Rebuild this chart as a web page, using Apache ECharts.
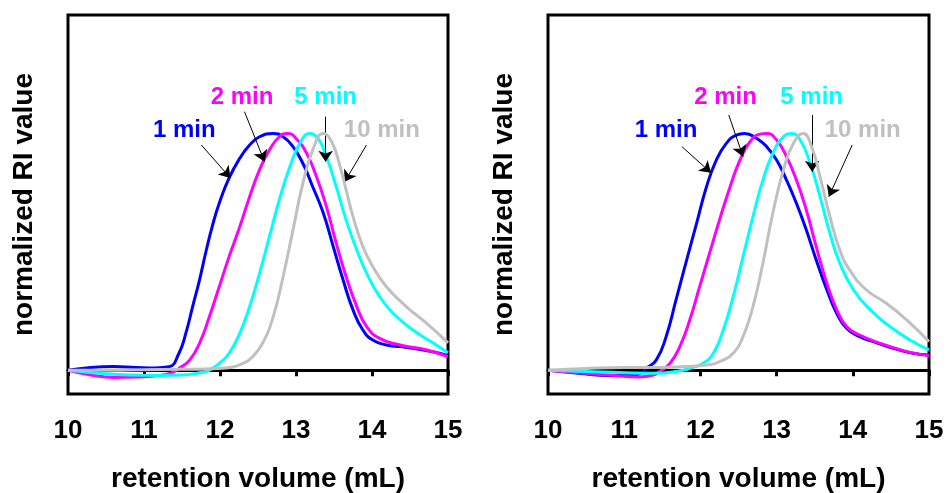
<!DOCTYPE html>
<html>
<head>
<meta charset="utf-8">
<script src="https://cdn.jsdelivr.net/npm/echarts@6/dist/echarts.min.js"></script>
<style>
html,body{margin:0;padding:0;background:#fff;}
#chart{width:948px;height:493px;}
</style>
</head>
<body>
<div id="chart"></div>
<script>
// ---- data (retention volume mL, normalized RI) ----
const xTicks = [10, 11, 12, 13, 14, 15];
const seriesNames = ['1 min', '2 min', '5 min', '10 min'];
const seriesColors = ['#0000FF', '#FF00FF', '#00FFFF', '#C0C0C0'];

// left panel
const L_1min = [[10.0,0.0],[10.3,0.012],[10.6,0.016],[10.9,0.012],[11.15,0.01],[11.33,0.015],[11.46,0.072],[11.55,0.156],[11.64,0.269],[11.73,0.381],[11.82,0.508],[11.9,0.61],[11.99,0.705],[12.12,0.812],[12.26,0.895],[12.39,0.951],[12.52,0.986],[12.7,1.0],[12.83,0.986],[12.96,0.944],[13.09,0.874],[13.22,0.775],[13.36,0.663],[13.49,0.522],[13.62,0.381],[13.75,0.255],[13.88,0.17],[14.01,0.128],[14.19,0.107],[14.37,0.1],[14.54,0.093],[14.8,0.078],[15.0,0.062]];
const L_2min = [[10.0,0.0],[10.3,-0.02],[10.6,-0.03],[10.9,-0.028],[11.2,-0.022],[11.35,-0.012],[11.46,0.008],[11.6,0.043],[11.73,0.114],[11.86,0.226],[11.99,0.353],[12.12,0.48],[12.26,0.606],[12.39,0.733],[12.52,0.846],[12.65,0.93],[12.78,0.986],[12.89,1.0],[13.0,0.979],[13.14,0.916],[13.27,0.817],[13.4,0.691],[13.53,0.536],[13.66,0.395],[13.8,0.269],[13.93,0.184],[14.1,0.135],[14.37,0.107],[14.72,0.086],[15.0,0.058]];
const L_5min = [[10.0,0.0],[10.4,-0.012],[10.8,-0.02],[11.2,-0.022],[11.5,-0.02],[11.73,-0.01],[11.86,0.001],[11.99,0.029],[12.12,0.072],[12.26,0.156],[12.39,0.269],[12.52,0.409],[12.65,0.564],[12.78,0.719],[12.92,0.86],[13.05,0.958],[13.18,1.0],[13.29,0.979],[13.4,0.902],[13.53,0.775],[13.66,0.634],[13.8,0.508],[13.93,0.409],[14.1,0.311],[14.28,0.24],[14.54,0.17],[14.81,0.114],[15.0,0.074]];
const L_10min = [[10.0,0.0],[10.5,0.0],[11.0,0.002],[11.5,0.004],[11.8,0.006],[12.08,0.01],[12.3,0.029],[12.43,0.058],[12.56,0.114],[12.7,0.226],[12.83,0.395],[12.96,0.592],[13.09,0.789],[13.22,0.93],[13.36,1.0],[13.47,0.965],[13.58,0.86],[13.66,0.761],[13.75,0.649],[13.88,0.522],[14.01,0.438],[14.19,0.353],[14.45,0.269],[14.72,0.198],[15.0,0.116]];

// right panel
const R_1min = [[10.0,0.0],[10.4,-0.012],[10.8,-0.022],[11.1,-0.022],[11.22,-0.012],[11.29,0.008],[11.42,0.043],[11.55,0.142],[11.68,0.297],[11.82,0.466],[11.95,0.62],[12.08,0.775],[12.21,0.888],[12.34,0.958],[12.47,0.993],[12.58,1.0],[12.74,0.979],[12.87,0.944],[13.0,0.888],[13.13,0.803],[13.26,0.705],[13.39,0.592],[13.52,0.466],[13.66,0.339],[13.79,0.24],[13.92,0.177],[14.09,0.142],[14.27,0.121],[14.53,0.093],[14.79,0.072],[15.0,0.065]];
const R_2min = [[10.0,0.0],[10.4,-0.01],[10.8,-0.02],[11.2,-0.028],[11.38,-0.02],[11.46,-0.006],[11.6,0.029],[11.73,0.1],[11.86,0.212],[11.99,0.353],[12.12,0.494],[12.25,0.634],[12.39,0.775],[12.52,0.888],[12.65,0.965],[12.78,0.997],[12.87,1.0],[13.0,0.972],[13.13,0.902],[13.26,0.803],[13.39,0.677],[13.52,0.522],[13.66,0.367],[13.79,0.255],[13.92,0.184],[14.09,0.149],[14.36,0.114],[14.71,0.079],[15.0,0.062]];
const R_5min = [[10.0,0.0],[10.5,-0.005],[11.0,-0.01],[11.4,-0.012],[11.7,-0.004],[11.86,0.008],[12.03,0.029],[12.17,0.072],[12.3,0.17],[12.43,0.311],[12.56,0.48],[12.69,0.649],[12.82,0.803],[12.95,0.916],[13.09,0.986],[13.2,1.0],[13.31,0.972],[13.44,0.874],[13.57,0.733],[13.7,0.578],[13.83,0.452],[14.01,0.339],[14.23,0.255],[14.49,0.184],[14.75,0.128],[15.0,0.086]];
const R_10min = [[10.0,0.0],[10.5,0.008],[11.0,0.012],[11.5,0.012],[11.8,0.016],[12.08,0.022],[12.3,0.043],[12.43,0.072],[12.56,0.142],[12.69,0.269],[12.82,0.452],[12.95,0.663],[13.09,0.846],[13.22,0.958],[13.35,1.0],[13.46,0.944],[13.57,0.817],[13.7,0.649],[13.83,0.508],[13.96,0.423],[14.18,0.339],[14.44,0.283],[14.71,0.212],[15.0,0.121]];

// annotation anchors (data coordinates): label centre, arrow start, arrow tip
const L_labelPos = [[11.53,1.014],[12.29,1.154],[13.39,1.154],[14.13,1.014]];
const L_arrowFrom = [[11.755,0.951],[12.322,1.092],[13.39,1.071],[13.927,0.951]];
const L_arrowTo = [[12.137,0.812],[12.586,0.881],[13.39,0.881],[13.641,0.796]];
const R_labelPos = [[11.55,1.014],[12.33,1.154],[13.46,1.154],[14.13,1.014]];
const R_arrowFrom = [[11.758,0.944],[12.372,1.078],[13.467,1.078],[13.992,0.951]];
const R_arrowTo = [[12.139,0.834],[12.56,0.902],[13.467,0.838],[13.686,0.733]];

const FONT = '"Liberation Sans", Arial, sans-serif';

function makeSeries(data, idx, axisIdx, labelPos, arrowFrom, arrowTo) {
  return {
    type: 'line',
    name: seriesNames[idx],
    xAxisIndex: axisIdx,
    yAxisIndex: axisIdx,
    data: data,
    smooth: 0.5,
    symbol: 'none',
    lineStyle: { color: seriesColors[idx], width: 3 },
    itemStyle: { color: seriesColors[idx] },
    z: 2 + idx,
    silent: true,
    animation: false,
    markPoint: {
      silent: true,
      symbol: 'rect',
      symbolSize: 1,
      itemStyle: { color: 'rgba(0,0,0,0)' },
      label: {
        show: true, position: 'inside', formatter: seriesNames[idx],
        color: seriesColors[idx], fontSize: 24, fontWeight: 'bold', fontFamily: FONT
      },
      data: [{ coord: labelPos[idx] }]
    },
    markLine: {
      silent: true,
      animation: false,
      symbol: ['none', 'arrow'],
      symbolSize: 11,
      label: { show: false },
      lineStyle: { color: '#000', width: 1, type: 'solid' },
      emphasis: { disabled: true },
      data: [[{ coord: arrowFrom[idx] }, { coord: arrowTo[idx] }]]
    }
  };
}

function makeX(gridIndex) {
  return {
    type: 'value', gridIndex: gridIndex, min: 10, max: 15, interval: 1,
    name: 'retention volume (mL)', nameLocation: 'middle', nameGap: 71,
    nameTextStyle: { fontSize: 28, fontWeight: 'bold', color: '#000', fontFamily: FONT },
    axisLine: { show: true, lineStyle: { color: '#000', width: 3 } },
    axisTick: { show: true, inside: false, length: 6, lineStyle: { color: '#000', width: 3 } },
    axisLabel: {
      show: true, margin: 24, fontSize: 26, fontWeight: 'bold', color: '#000', fontFamily: FONT,
      formatter: function (v) { return xTicks.indexOf(v) >= 0 ? String(v) : ''; }
    },
    splitLine: { show: false }
  };
}
function makeY(gridIndex) {
  return {
    type: 'value', gridIndex: gridIndex, min: -0.1, max: 1.5,
    name: 'normalized RI value', nameLocation: 'middle', nameGap: 30,
    nameTextStyle: { fontSize: 28, fontWeight: 'bold', color: '#000', fontFamily: FONT },
    axisLine: { show: false }, axisTick: { show: false }, axisLabel: { show: false },
    splitLine: { show: false }
  };
}

const leftSets = [L_1min, L_2min, L_5min, L_10min];
const rightSets = [R_1min, R_2min, R_5min, R_10min];
const series = [];
leftSets.forEach((d, i) => series.push(makeSeries(d, i, 0, L_labelPos, L_arrowFrom, L_arrowTo)));
rightSets.forEach((d, i) => series.push(makeSeries(d, i, 1, R_labelPos, R_arrowFrom, R_arrowTo)));

const chart = echarts.init(document.getElementById('chart'), null, { renderer: 'canvas' });
chart.setOption({
  backgroundColor: '#fff',
  animation: false,
  textStyle: { fontFamily: FONT },
  grid: [
    { left: 68, right: 500, top: 15, bottom: 99, show: true, borderColor: '#000', borderWidth: 3, containLabel: false, outerBoundsMode: 'none' },
    { left: 548, right: 19, top: 15, bottom: 99, show: true, borderColor: '#000', borderWidth: 3, containLabel: false, outerBoundsMode: 'none' }
  ],
  xAxis: [makeX(0), makeX(1)],
  yAxis: [makeY(0), makeY(1)],
  series: series
});
</script>
</body>
</html>
